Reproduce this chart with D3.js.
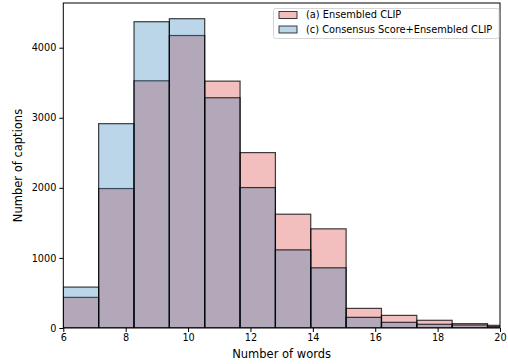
<!DOCTYPE html>
<html><head><meta charset="utf-8">
<script src="https://cdn.jsdelivr.net/npm/d3@7"></script>
<style>body{margin:0;background:#fff}svg{display:block}text{font-family:"DejaVu Sans",sans-serif}</style>
</head><body><svg id="c" width="508" height="364"></svg>
<script>
const binEdges = [6, 7.133, 8.267, 9.4, 10.533, 11.667, 12.8, 13.933, 15.067, 16.2, 17.333, 18.467, 19.6, 20.733];
const seriesA = [437, 1990, 3528, 4174, 3523, 2503, 1624, 1415, 280, 180, 110, 62, 38];
const seriesC = [584, 2916, 4371, 4414, 3286, 2004, 1115, 859, 152, 81, 53, 43, 20];
const seriesNames = ["(a) Ensembled CLIP", "(c) Consensus Score+Ensembled CLIP"];
const seriesColors = ["#d62728", "#1f77b4"];
const xTicks = [6, 8, 10, 12, 14, 16, 18, 20];
const yTicks = [0, 1000, 2000, 3000, 4000];

const svg = d3.select("#c");
const m = {l: 63.3, r: 8, t: 3, b: 36};
const W = 508, H = 364;
const x = d3.scaleLinear().domain([6, 20]).range([m.l, W - m.r]);
const y = d3.scaleLinear().domain([0, 4638]).range([H - m.b, m.t]);

svg.append("clipPath").attr("id", "clip").append("rect")
  .attr("x", x(6)).attr("y", y(4638)).attr("width", x(20) - x(6)).attr("height", y(0) - y(4638));

const g = svg.append("g").attr("clip-path", "url(#clip)");
[seriesA, seriesC].forEach((vals, si) => {
  g.selectAll(null).data(vals).enter().append("rect")
    .attr("x", (d, i) => x(binEdges[i]))
    .attr("width", (d, i) => x(binEdges[i + 1]) - x(binEdges[i]))
    .attr("y", d => y(d))
    .attr("height", d => y(0) - y(d))
    .attr("fill", seriesColors[si]).attr("fill-opacity", 0.3)
    .attr("stroke", "#000").attr("stroke-opacity", 0.75).attr("stroke-width", 1.2);
});

// frame
svg.append("rect").attr("x", x(6)).attr("y", y(4638)).attr("width", x(20) - x(6)).attr("height", y(0) - y(4638))
  .attr("fill", "none").attr("stroke", "#000").attr("stroke-width", 1);

const xa = svg.append("g").attr("transform", `translate(0,${y(0)})`)
  .call(d3.axisBottom(x).tickValues(xTicks).tickFormat(d3.format("d")).tickSize(4).tickPadding(2));
const ya = svg.append("g").attr("transform", `translate(${x(6)},0)`)
  .call(d3.axisLeft(y).tickValues(yTicks).tickFormat(d3.format("d")).tickSize(4).tickPadding(3));
[xa, ya].forEach(a => {
  a.select(".domain").remove();
  a.selectAll("line").attr("stroke", "#000");
  a.selectAll("text").attr("font-size", 9.7).attr("fill", "#000").style("font-family", "DejaVu Sans");
});

svg.append("text").attr("x", (x(6) + x(20)) / 2).attr("y", 358).attr("text-anchor", "middle")
  .attr("font-size", 11.5).text("Number of words");
svg.append("text").attr("transform", `translate(22,${(y(0) + y(4638)) / 2}) rotate(-90)`).attr("text-anchor", "middle")
  .attr("font-size", 11.5).text("Number of captions");

// legend
const lg = svg.append("g");
lg.append("rect").attr("x", 273.5).attr("y", 8.5).attr("width", 225.5).attr("height", 30).attr("rx", 2)
  .attr("fill", "#fff").attr("fill-opacity", 0.8).attr("stroke", "#ccc").attr("stroke-width", 0.8);
seriesNames.forEach((n, i) => {
  const yy = 15 + i * 14.5;
  lg.append("rect").attr("x", 279).attr("y", yy - 3.5).attr("width", 18).attr("height", 7)
    .attr("fill", seriesColors[i]).attr("fill-opacity", 0.3).attr("stroke", "#000").attr("stroke-opacity", 0.75);
  lg.append("text").attr("x", 306).attr("y", yy).attr("dy", "0.35em").attr("font-size", 9.8).text(n);
});
</script></body></html>
